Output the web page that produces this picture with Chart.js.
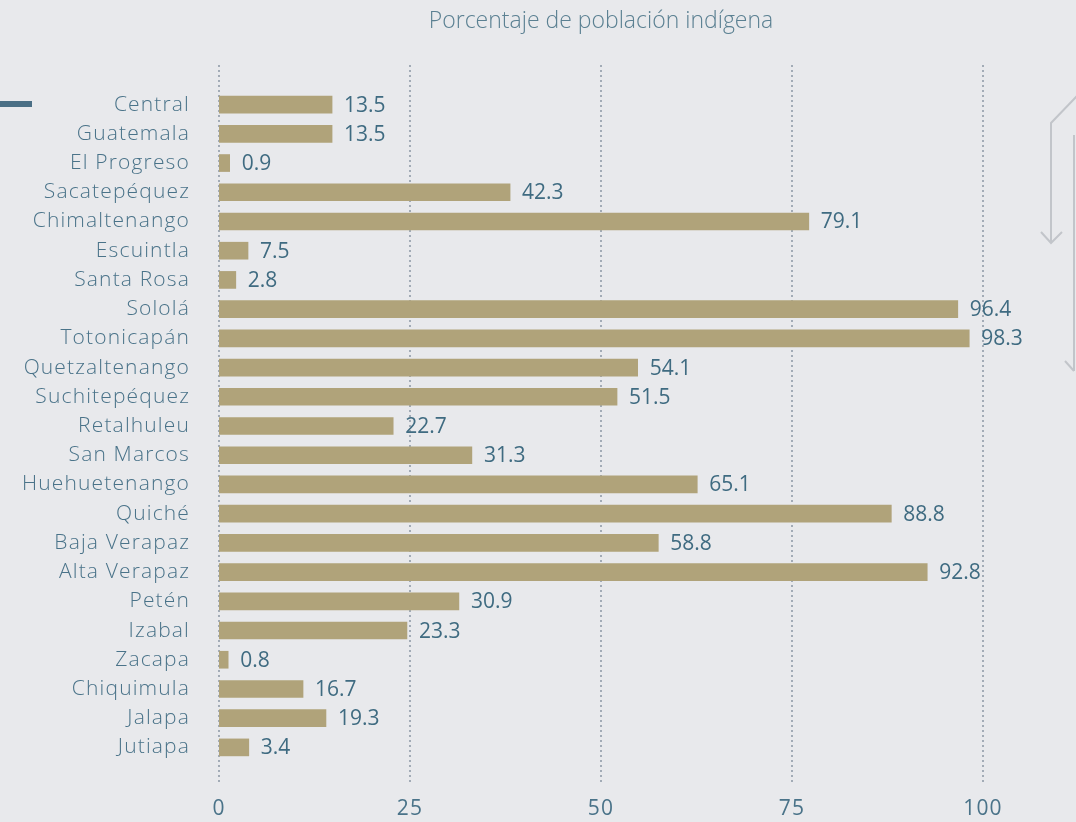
<!DOCTYPE html>
<html><head><meta charset="utf-8">
<script src="https://cdn.jsdelivr.net/npm/chart.js@4.4.1/dist/chart.umd.min.js"></script>
<style>html,body{margin:0;padding:0;background:#e8e9ec;}canvas{display:block;}</style>
</head><body>
<canvas id="c" width="1076" height="822"></canvas>
<script>
const categories = ['Central','Guatemala','El Progreso','Sacatepéquez','Chimaltenango','Escuintla','Santa Rosa','Sololá','Totonicapán','Quetzaltenango','Suchitepéquez','Retalhuleu','San Marcos','Huehuetenango','Quiché','Baja Verapaz','Alta Verapaz','Petén','Izabal','Zacapa','Chiquimula','Jalapa','Jutiapa'];
// printed values (labels)
const values = [13.5,13.5,0.9,42.3,79.1,7.5,2.8,96.4,98.3,54.1,51.5,22.7,31.3,65.1,88.8,58.8,92.8,30.9,23.3,0.8,16.7,19.3,3.4];
// bar lengths as drawn in the picture
const barLengths = [14.8,14.8,1.4,38.1,77.2,3.8,2.2,96.7,98.2,54.8,52.1,22.8,33.1,62.6,88.0,57.5,92.7,31.4,24.6,1.2,11.0,14.0,3.9];
const xTicks = [0,25,50,75,100];
const titleText = 'Porcentaje de población indígena';

const FONT = '"Open Sans"';
const TXT = '#4a7389';

const deco = {
  id: 'deco',
  beforeDraw(chart) {
    const ctx = chart.ctx;
    ctx.save();
    ctx.fillStyle = '#e8e9ec';
    ctx.fillRect(0, 0, chart.width, chart.height);
    const xs = chart.scales.x;
    ctx.strokeStyle = '#a2abb6';
    ctx.lineWidth = 2;
    ctx.setLineDash([2, 3]);
    xTicks.forEach(v => {
      const px = Math.round(xs.getPixelForValue(v));
      ctx.beginPath();
      ctx.moveTo(px, 65);
      ctx.lineTo(px, 784);
      ctx.stroke();
    });
    ctx.setLineDash([]);
    ctx.fillStyle = '#4a6f85';
    ctx.fillRect(0, 101, 32, 6);
    ctx.strokeStyle = '#c2c5ca';
    ctx.lineWidth = 2;
    ctx.beginPath();
    ctx.moveTo(1077, 96); ctx.lineTo(1051, 123); ctx.lineTo(1051, 243);
    ctx.moveTo(1041, 232); ctx.lineTo(1051, 243); ctx.lineTo(1062, 232);
    ctx.moveTo(1074, 135); ctx.lineTo(1074, 371);
    ctx.moveTo(1065, 361); ctx.lineTo(1074, 371);
    ctx.stroke();
    ctx.fillStyle = '#5b8092';
    ctx.letterSpacing = '0px';
    ctx.font = '300 23px ' + FONT;
    ctx.textAlign = 'center';
    ctx.textBaseline = 'middle';
    ctx.fillText(titleText, (chart.chartArea.left + chart.chartArea.right) / 2, 21);
    ctx.restore();
    // wider tracking for the category labels drawn by the y axis
    ctx.letterSpacing = '1.15px';
  },
  afterDatasetsDraw(chart) {
    const ctx = chart.ctx;
    const meta = chart.getDatasetMeta(0);
    ctx.save();
    ctx.letterSpacing = '0px';
    ctx.fillStyle = '#3f6b81';
    ctx.font = '21px ' + FONT;
    ctx.textAlign = 'left';
    ctx.textBaseline = 'middle';
    meta.data.forEach((bar, i) => {
      ctx.fillText(values[i].toFixed(1), bar.x + 12, bar.y + 1);
    });
    ctx.restore();
  },
  afterDraw(chart) { chart.ctx.letterSpacing = '0px'; }
};

new Chart(document.getElementById('c'), {
  type: 'bar',
  data: {
    labels: categories,
    datasets: [{
      data: barLengths,
      backgroundColor: '#b0a37a',
      barThickness: 17,
      borderWidth: 0
    }]
  },
  options: {
    indexAxis: 'y',
    responsive: false,
    animation: false,
    layout: { padding: { top: 90, right: 93, bottom: 0, left: 0 } },
    plugins: { legend: { display: false }, title: { display: false }, tooltip: { enabled: false } },
    scales: {
      x: {
        min: 0, max: 100,
        afterBuildTicks(scale) { scale.ticks = xTicks.map(v => ({ value: v })); },
        afterFit(scale) { scale.height = 60; },
        grid: { display: false, drawTicks: false },
        border: { display: false },
        ticks: { color: TXT, font: { family: FONT, size: 21 }, padding: 34 }
      },
      y: {
        afterFit(scale) { scale.width = 219; },
        grid: { display: false, drawTicks: false },
        border: { display: false },
        ticks: { color: TXT, font: { family: FONT, size: 21, weight: 300 }, padding: 29, autoSkip: false }
      }
    }
  },
  plugins: [deco]
});
</script>
</body></html>
